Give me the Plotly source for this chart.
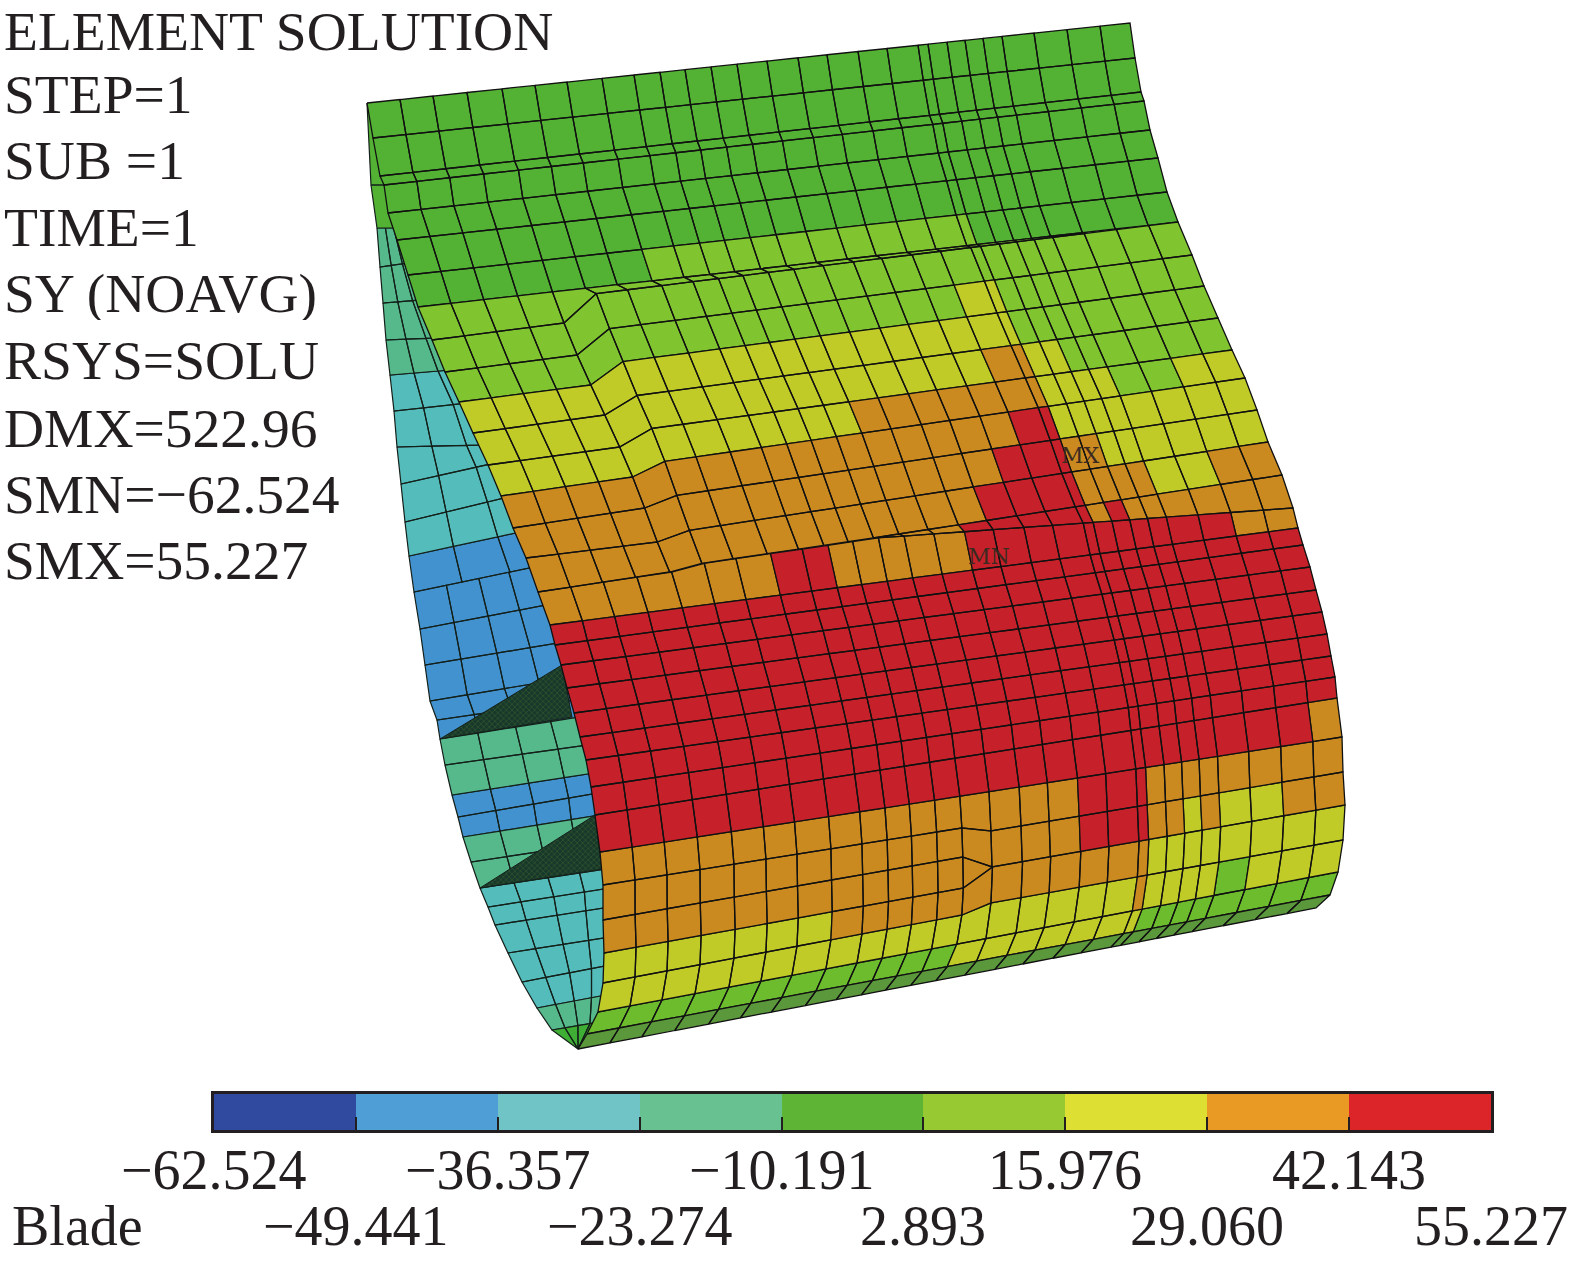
import numpy as np
import plotly.graph_objects as go

# contour levels of the colour bar
breaks = [-62.524, -49.441, -36.357, -23.274, -10.191, 2.893, 15.976, 29.060, 42.143, 55.227]
bar_colors = ['#2f4a9e', '#4f9fd6', '#70c4c6', '#68c190', '#5eb435', '#96c932', '#dde033', '#e89a25', '#dc2528']
label_top = ['\u221262.524', '\u221236.357', '\u221210.191', '15.976', '42.143']
label_low = ['\u221249.441', '\u221223.274', '2.893', '29.060', '55.227']
info = ['ELEMENT SOLUTION', 'STEP=1', 'SUB =1', 'TIME=1', 'SY (NOAVG)', 'RSYS=SOLU',
        'DMX=522.96', 'SMN=\u221262.524', 'SMX=55.227']
info_y = [31, 94, 160, 227, 293, 360, 428, 494, 560]

# colour of a cell on the blade
mesh_colors = {'1': '#4392d0', '2': '#55bcbc', '3': '#55b98c', '4': '#53b234', '5': '#80c42f', '6': '#c0cb27',
               '7': '#cb8a20', '8': '#c6212a', 'g': '#6cbc2e', 'd': '#5b973b', 'k': '#3fae34'}

# main surface: row lines read at the two edges of the blade
left_x = [367, 373, 380, 384, 388, 397, 408, 418, 432, 445, 459, 473, 488, 501, 513, 526, 538, 538,
          550, 555, 561, 567, 574, 580, 586, 591, 595, 600, 603, 603, 604, 603, 598, 587, 578]
left_y = [103, 138, 176, 185, 213, 240, 275, 307, 340, 372, 402, 433, 465, 496, 528, 558, 592, 592,
          625, 645, 665, 688, 713, 737, 760, 787, 815, 852, 885, 920, 953, 983, 1012, 1034, 1049]
right_x = [1130, 1135, 1141, 1144, 1150, 1158, 1167, 1178, 1178, 1192, 1204, 1218, 1232, 1245, 1257, 1268, 1282, 1293,
           1298, 1303, 1310, 1316, 1322, 1327, 1331, 1335, 1337, 1342, 1343, 1345, 1345, 1343, 1338, 1330, 1316]
right_y = [23, 58, 92, 101, 130, 158, 192, 222, 222, 255, 286, 318, 350, 378, 410, 442, 475, 508,
           528, 545, 567, 590, 612, 634, 656, 677, 698, 737, 772, 805, 805, 840, 872, 895, 908]
# where a row line steps across the mesh transition: line -> (fractions, heights)
mesh_steps = {
    8: ([.177, .205], [323, 295]), 9: ([.177, .205], [355, 330]), 10: ([.177, .205], [385, 363]),
    11: ([.177, .205], [415, 397]), 12: ([.177, .205], [447, 430]), 13: ([.177, .205], [477, 463]),
    14: ([.177, .205], [508, 497]), 15: ([.177, .205], [542, 532]),
    16: ([.177, .205, .45], [572, 565, 538]),
    17: ([.177, .205, .45], [572, 565, 538]),
    28: ([.485, .524], [828, 831]), 29: ([.485, .524], [857, 867]),
    30: ([.485, .524], [888, 867]), 31: ([.485, .524], [915, 903]),
}
# column lines read along the top edge
col_x = [367, 400, 433, 467, 502, 535, 567, 602, 634, 660, 685, 711, 737, 767, 798, 827, 858, 887, 918, 928,
         947, 965, 983, 1002, 1034, 1067, 1100, 1130]

mesh_rows = [
    '4' * 27, '4' * 27, '4' * 27, '4' * 27, '4' * 27, '4' * 27,
    '4' * 7 + '5' * 12 + '4' * 8,
    '5' * 27,
    '5' * 27,
    '5' * 17 + '66' + '5' * 8,
    '6' * 19 + '5' * 8,
    '6' * 17 + '77' + '66' + '5' * 6,
    '6' * 12 + '7' * 7 + '6' * 4 + '55' + '66',
    '7' * 17 + '88' + '6' * 8,
    '7' * 16 + '888' + '77' + '6' * 6,
    '7' * 15 + '8888' + '7777' + '66' + '77',
    '7' * 14 + '8' * 5 + '7' + '8' + '7' * 6,
    '7' * 7 + '88' + '7' * 5 + '8' * 11 + '77',
    '8' * 27, '8' * 27, '8' * 27, '8' * 27, '8' * 27, '8' * 27, '8' * 27, '8' * 27,
    '8' * 26 + '7',
    '7' * 16 + '888' + '7' * 8,
    '7' * 16 + '888' + '77' + '6' + '7' + '66' + '77',
    '7' * 27,
    '6' * 7 + '7' * 12 + '6' * 8,
    '6' * 18 + '7' + '6' * 4 + 'g' + '6' * 3,
    'g' * 12 + '6' * 7 + 'g' * 8,
    'd' * 27,
]

# inner face seen at the left of the blade
side_outer_x = [367, 371, 377, 380, 383, 386, 390, 394, 397, 401, 405, 409, 414, 420, 425, 430, 437, 440,
                445, 452, 458, 463, 471, 480, 488, 495, 508, 522, 537, 552, 578]
side_outer_y = [103, 185, 228, 267, 303, 340, 375, 411, 447, 484, 522, 556, 592, 629, 665, 701, 720, 739,
                765, 795, 817, 837, 862, 888, 907, 925, 953, 982, 1008, 1030, 1049]
side_inner_x = [367, 392, 398, 408, 420, 436, 450, 468, 484, 495, 508, 520, 534, 546, 558, 568, 575, 580,
                588, 594, 598, 600, 604, 606, 610, 610, 610, 610, 606, 600, 578]
side_inner_y = [103, 185, 228, 263, 300, 338, 370, 403, 445, 463, 497, 532, 567, 605, 643, 678, 700, 717,
                745, 773, 793, 815, 842, 869, 888, 907, 937, 965, 995, 1022, 1049]
side_levels = '44333322222' + '111111' + '33' + '11' + '33' + '22222' + '3' + 'k'
side_cols_top = [0, 1]
side_cols_up = [0, .4, .8, 1]
side_cols_low = [0, .27, .54, .79, 1]
side_top_rows = 2
side_split = 12

# densely meshed root fillets, drawn nearly black
fillet_x = [[440, 562, 572], [480, 595, 602]]
fillet_y = [[739, 665, 717], [888, 815, 869]]


def line_y(k, f):
    fs, ys = mesh_steps.get(k, ([], []))
    return float(np.interp(f, [0] + fs + [1], [left_y[k]] + ys + [right_y[k]]))


def node(k, f):
    return left_x[k] + (right_x[k] - left_x[k]) * f, line_y(k, f)


fracs = [(c - col_x[0]) / (col_x[-1] - col_x[0]) for c in col_x]
polys = {key: ([], []) for key in mesh_colors}

# inner face first, the blade goes over it
for r, key in enumerate(side_levels):
    cols = side_cols_top if r < side_top_rows else side_cols_up if r < side_split else side_cols_low
    for a, b in zip(cols[:-1], cols[1:]):
        corners = [(r, a), (r, b), (r + 1, b), (r + 1, a), (r, a)]
        xs = [side_outer_x[i] + (side_inner_x[i] - side_outer_x[i]) * t for i, t in corners]
        ys = [side_outer_y[i] + (side_inner_y[i] - side_outer_y[i]) * t for i, t in corners]
        polys[key][0].extend(xs + [None])
        polys[key][1].extend(ys + [None])

fig = go.Figure()
for key in '12345k':
    fig.add_trace(go.Scatter(x=polys[key][0], y=polys[key][1], mode='lines', fill='toself',
                             fillcolor=mesh_colors[key], line=dict(color='#14201a', width=1.2), hoverinfo='skip'))
    polys[key] = ([], [])

for fx, fy in zip(fillet_x, fillet_y):
    fig.add_trace(go.Scatter(x=fx + fx[:1], y=fy + fy[:1], mode='lines', fill='toself', fillcolor='#21482b',
                             fillpattern=dict(shape='x', bgcolor='#17382a', fgcolor='#5b8a34', size=4, solidity=.25),
                             line=dict(color='#14201a', width=1), hoverinfo='skip'))

for r, row in enumerate(mesh_rows):
    for c, key in enumerate(row):
        pts = [node(r, fracs[c]), node(r, fracs[c + 1]), node(r + 1, fracs[c + 1]), node(r + 1, fracs[c]), node(r, fracs[c])]
        # rows that pinch out at a mesh transition have no height there, skip the doubled stroke
        if pts[3][1] - pts[0][1] < 1 and pts[2][1] - pts[1][1] < 1:
            continue
        polys[key][0].extend([p[0] for p in pts] + [None])
        polys[key][1].extend([p[1] for p in pts] + [None])

for key in '45g6d78':
    fig.add_trace(go.Scatter(x=polys[key][0], y=polys[key][1], mode='lines', fill='toself',
                             fillcolor=mesh_colors[key], line=dict(color='#111111', width=1.3), hoverinfo='skip'))

# colour bar on its own axes
for i, col in enumerate(bar_colors):
    fig.add_trace(go.Bar(y=[0], x=[breaks[i + 1] - breaks[i]], base=[breaks[i]], orientation='h', width=1,
                         marker=dict(color=col, line=dict(width=0)), xaxis='x2', yaxis='y2', hoverinfo='skip'))

info_font = dict(family='Liberation Serif', size=55.5, color='#231f20')
text_font = dict(family='Liberation Serif', size=56, color='#231f20')
annots = []
for txt, y in zip(info, info_y):
    annots.append(dict(x=3, y=y, text=txt, xref='x', yref='y', xanchor='left', yanchor='middle',
                       showarrow=False, font=info_font, height=54, borderpad=0))
for txt, val in zip(label_top, breaks[0::2]):
    annots.append(dict(x=val, y=1170, text=txt, xref='x2', yref='y', xanchor='center', yanchor='middle',
                       showarrow=False, font=text_font))
for txt, val in zip(label_low, breaks[1::2]):
    annots.append(dict(x=val, y=1226, text=txt, xref='x2', yref='y', xanchor='center', yanchor='middle',
                       showarrow=False, font=text_font))
annots.append(dict(x=10, y=1226, text='Blade', xref='x', yref='y', xanchor='left', yanchor='middle',
                   showarrow=False, font=text_font))
mark_font = dict(family='DejaVu Serif', size=22, color='#3a2a20')
annots.append(dict(x=1080, y=455, text='MX', xref='x', yref='y', showarrow=False, font=mark_font))
annots.append(dict(x=989, y=556, text='MN', xref='x', yref='y', showarrow=False, font=mark_font))

fig.update_layout(
    width=1575, height=1262, margin=dict(l=0, r=0, t=0, b=0), showlegend=False,
    paper_bgcolor='white', plot_bgcolor='white', bargap=0, barmode='overlay', annotations=annots,
    xaxis=dict(range=[0, 1575], visible=False, domain=[0, 1]),
    yaxis=dict(range=[1262, 0], visible=False, domain=[0, 1]),
    xaxis2=dict(domain=[214 / 1575, 1491 / 1575], range=[breaks[0], breaks[-1]], anchor='y2', showgrid=False,
                zeroline=False, showline=True, mirror=True, linecolor='#231f20', linewidth=3,
                tickmode='array', tickvals=breaks[1:-1], ticks='inside', ticklen=13, tickwidth=2,
                tickcolor='#231f20', showticklabels=False),
    yaxis2=dict(domain=[1 - 1130 / 1262, 1 - 1094 / 1262], range=[-.5, .5], anchor='x2', showgrid=False,
                zeroline=False, showline=True, mirror=True, linecolor='#231f20', linewidth=3,
                showticklabels=False, ticks=''),
)

fig.write_html("out.html", post_script="document.body.style.margin='0';", config={'displayModeBar': False})
